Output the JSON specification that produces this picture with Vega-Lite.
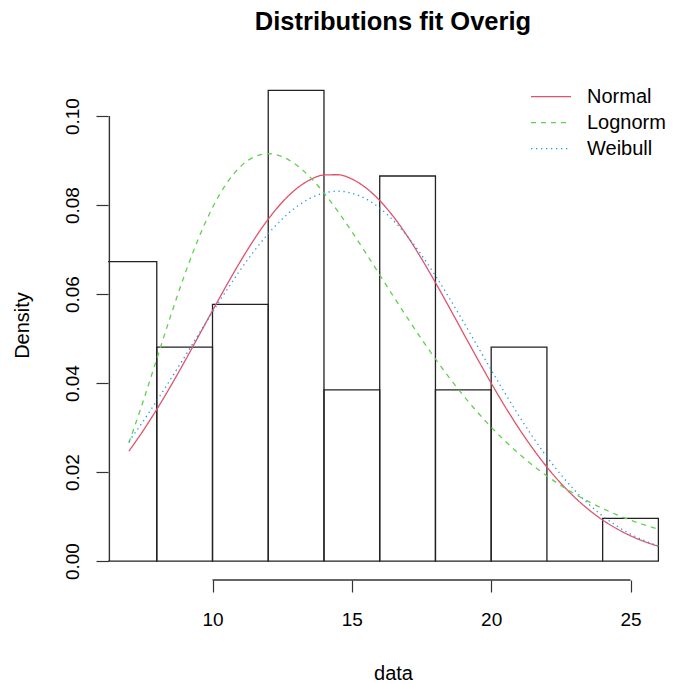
{
  "$schema": "https://vega.github.io/schema/vega-lite/v6.json",
  "width": 566,
  "height": 509,
  "autosize": {"type": "none"},
  "padding": {"left": 108, "top": 71, "right": 0, "bottom": 104},
  "background": "white",
  "title": {"text": "Distributions fit Overig", "fontSize": 25.5, "fontWeight": "bold", "font": "Liberation Sans", "color": "#000000", "anchor": "middle", "dx": 2, "offset": 36},
  "config": {
    "font": "Liberation Sans",
    "view": {"stroke": null},
    "axis": {"grid": false, "domain": false, "tickColor": "#333333", "tickWidth": 1.2, "tickSize": 12, "labelColor": "#000000", "titleColor": "#000000", "labelFont": "Liberation Sans", "titleFont": "Liberation Sans", "labelFontSize": 19, "titleFontSize": 20, "titleFontWeight": "normal"},
    "legend": {"orient": "none", "legendX": 422, "legendY": 12.7, "padding": 0, "symbolType": "stroke", "symbolSize": 1600, "symbolStrokeWidth": 1.3, "labelFontSize": 20, "labelFont": "Liberation Sans", "labelColor": "#000000", "labelOffset": 15, "clipHeight": 26, "rowPadding": 0}
  },
  "datasets": {
    "hist": [
      {"x0": 6, "x1": 8, "density": 0.06731},
      {"x0": 8, "x1": 10, "density": 0.04808},
      {"x0": 10, "x1": 12, "density": 0.05769},
      {"x0": 12, "x1": 14, "density": 0.10577},
      {"x0": 14, "x1": 16, "density": 0.03846},
      {"x0": 16, "x1": 18, "density": 0.08654},
      {"x0": 18, "x1": 20, "density": 0.03846},
      {"x0": 20, "x1": 22, "density": 0.04808},
      {"x0": 22, "x1": 24, "density": 0},
      {"x0": 24, "x1": 26, "density": 0.00962}
    ],
    "xaxisline": [{"xa": 10, "xb": 25, "y": -0.00425}],
    "yaxisline": [{"xv": 6.3, "ya": 0, "yb": 0.1}],
    "curves": [
      {"dist": "Normal", "x": 7, "d": 0.02471}, {"dist": "Normal", "x": 7.5, "d": 0.02920}, {"dist": "Normal", "x": 8, "d": 0.03409}, {"dist": "Normal", "x": 8.5, "d": 0.03933}, {"dist": "Normal", "x": 9, "d": 0.04485}, {"dist": "Normal", "x": 9.5, "d": 0.05054}, {"dist": "Normal", "x": 10, "d": 0.05628}, {"dist": "Normal", "x": 10.5, "d": 0.06192}, {"dist": "Normal", "x": 11, "d": 0.06734}, {"dist": "Normal", "x": 11.5, "d": 0.07235}, {"dist": "Normal", "x": 12, "d": 0.07683}, {"dist": "Normal", "x": 12.5, "d": 0.08063}, {"dist": "Normal", "x": 13, "d": 0.08361}, {"dist": "Normal", "x": 13.5, "d": 0.08568}, {"dist": "Normal", "x": 14, "d": 0.08676}, {"dist": "Normal", "x": 14.5, "d": 0.08682}, {"dist": "Normal", "x": 15, "d": 0.08586}, {"dist": "Normal", "x": 15.5, "d": 0.08390}, {"dist": "Normal", "x": 16, "d": 0.08103}, {"dist": "Normal", "x": 16.5, "d": 0.07733}, {"dist": "Normal", "x": 17, "d": 0.07293}, {"dist": "Normal", "x": 17.5, "d": 0.06795}, {"dist": "Normal", "x": 18, "d": 0.06258}, {"dist": "Normal", "x": 18.5, "d": 0.05696}, {"dist": "Normal", "x": 19, "d": 0.05123}, {"dist": "Normal", "x": 19.5, "d": 0.04553}, {"dist": "Normal", "x": 20, "d": 0.03998}, {"dist": "Normal", "x": 20.5, "d": 0.03470}, {"dist": "Normal", "x": 21, "d": 0.02976}, {"dist": "Normal", "x": 21.5, "d": 0.02523}, {"dist": "Normal", "x": 22, "d": 0.02113}, {"dist": "Normal", "x": 22.5, "d": 0.01749}, {"dist": "Normal", "x": 23, "d": 0.01431}, {"dist": "Normal", "x": 23.5, "d": 0.01156}, {"dist": "Normal", "x": 24, "d": 0.00923}, {"dist": "Normal", "x": 24.5, "d": 0.00729}, {"dist": "Normal", "x": 25, "d": 0.00568}, {"dist": "Normal", "x": 25.5, "d": 0.00438}, {"dist": "Normal", "x": 26, "d": 0.00334},
      {"dist": "Lognorm", "x": 7, "d": 0.02653}, {"dist": "Lognorm", "x": 7.5, "d": 0.03571}, {"dist": "Lognorm", "x": 8, "d": 0.04542}, {"dist": "Lognorm", "x": 8.5, "d": 0.05515}, {"dist": "Lognorm", "x": 9, "d": 0.06433}, {"dist": "Lognorm", "x": 9.5, "d": 0.07254}, {"dist": "Lognorm", "x": 10, "d": 0.07945}, {"dist": "Lognorm", "x": 10.5, "d": 0.08484}, {"dist": "Lognorm", "x": 11, "d": 0.08863}, {"dist": "Lognorm", "x": 11.5, "d": 0.09084}, {"dist": "Lognorm", "x": 12, "d": 0.09154}, {"dist": "Lognorm", "x": 12.5, "d": 0.09089}, {"dist": "Lognorm", "x": 13, "d": 0.08907}, {"dist": "Lognorm", "x": 13.5, "d": 0.08628}, {"dist": "Lognorm", "x": 14, "d": 0.08272}, {"dist": "Lognorm", "x": 14.5, "d": 0.07858}, {"dist": "Lognorm", "x": 15, "d": 0.07403}, {"dist": "Lognorm", "x": 15.5, "d": 0.06924}, {"dist": "Lognorm", "x": 16, "d": 0.06433}, {"dist": "Lognorm", "x": 16.5, "d": 0.05941}, {"dist": "Lognorm", "x": 17, "d": 0.05458}, {"dist": "Lognorm", "x": 17.5, "d": 0.04990}, {"dist": "Lognorm", "x": 18, "d": 0.04542}, {"dist": "Lognorm", "x": 18.5, "d": 0.04118}, {"dist": "Lognorm", "x": 19, "d": 0.03721}, {"dist": "Lognorm", "x": 19.5, "d": 0.03351}, {"dist": "Lognorm", "x": 20, "d": 0.03010}, {"dist": "Lognorm", "x": 20.5, "d": 0.02696}, {"dist": "Lognorm", "x": 21, "d": 0.02409}, {"dist": "Lognorm", "x": 21.5, "d": 0.02148}, {"dist": "Lognorm", "x": 22, "d": 0.01912}, {"dist": "Lognorm", "x": 22.5, "d": 0.01699}, {"dist": "Lognorm", "x": 23, "d": 0.01507}, {"dist": "Lognorm", "x": 23.5, "d": 0.01335}, {"dist": "Lognorm", "x": 24, "d": 0.01181}, {"dist": "Lognorm", "x": 24.5, "d": 0.01043}, {"dist": "Lognorm", "x": 25, "d": 0.00921}, {"dist": "Lognorm", "x": 25.5, "d": 0.00812}, {"dist": "Lognorm", "x": 26, "d": 0.00716},
      {"dist": "Weibull", "x": 7, "d": 0.02686}, {"dist": "Weibull", "x": 7.5, "d": 0.03131}, {"dist": "Weibull", "x": 8, "d": 0.03602}, {"dist": "Weibull", "x": 8.5, "d": 0.04090}, {"dist": "Weibull", "x": 9, "d": 0.04590}, {"dist": "Weibull", "x": 9.5, "d": 0.05095}, {"dist": "Weibull", "x": 10, "d": 0.05595}, {"dist": "Weibull", "x": 10.5, "d": 0.06081}, {"dist": "Weibull", "x": 11, "d": 0.06544}, {"dist": "Weibull", "x": 11.5, "d": 0.06972}, {"dist": "Weibull", "x": 12, "d": 0.07356}, {"dist": "Weibull", "x": 12.5, "d": 0.07686}, {"dist": "Weibull", "x": 13, "d": 0.07955}, {"dist": "Weibull", "x": 13.5, "d": 0.08151}, {"dist": "Weibull", "x": 14, "d": 0.08273}, {"dist": "Weibull", "x": 14.5, "d": 0.08312}, {"dist": "Weibull", "x": 15, "d": 0.08268}, {"dist": "Weibull", "x": 15.5, "d": 0.08141}, {"dist": "Weibull", "x": 16, "d": 0.07932}, {"dist": "Weibull", "x": 16.5, "d": 0.07647}, {"dist": "Weibull", "x": 17, "d": 0.07293}, {"dist": "Weibull", "x": 17.5, "d": 0.06878}, {"dist": "Weibull", "x": 18, "d": 0.06412}, {"dist": "Weibull", "x": 18.5, "d": 0.05908}, {"dist": "Weibull", "x": 19, "d": 0.05381}, {"dist": "Weibull", "x": 19.5, "d": 0.04839}, {"dist": "Weibull", "x": 20, "d": 0.04298}, {"dist": "Weibull", "x": 20.5, "d": 0.03768}, {"dist": "Weibull", "x": 21, "d": 0.03261}, {"dist": "Weibull", "x": 21.5, "d": 0.02783}, {"dist": "Weibull", "x": 22, "d": 0.02342}, {"dist": "Weibull", "x": 22.5, "d": 0.01943}, {"dist": "Weibull", "x": 23, "d": 0.01589}, {"dist": "Weibull", "x": 23.5, "d": 0.01279}, {"dist": "Weibull", "x": 24, "d": 0.01013}, {"dist": "Weibull", "x": 24.5, "d": 0.00791}, {"dist": "Weibull", "x": 25, "d": 0.00607}, {"dist": "Weibull", "x": 25.5, "d": 0.00459}, {"dist": "Weibull", "x": 26, "d": 0.00340}
    ]
  },
  "layer": [
    {
      "data": {"name": "hist"},
      "mark": {"type": "rect", "filled": false, "stroke": "#222222", "strokeWidth": 1.3, "clip": true},
      "encoding": {
        "x": {"field": "x0", "type": "quantitative", "title": "data", "scale": {"domain": [6.25, 26.56], "nice": false, "zero": false},
              "axis": {"values": [10, 15, 20, 25], "labelPadding": 33.5, "labelBaseline": "alphabetic", "titleX": 285, "titleY": 99, "titleBaseline": "alphabetic", "titleAlign": "center", "titleAnchor": null}},
        "x2": {"field": "x1"},
        "y": {"field": "density", "type": "quantitative", "title": "Density", "scale": {"domain": [-0.00425, 0.11013], "nice": false, "zero": false},
              "axis": {"values": [0, 0.02, 0.04, 0.06, 0.08, 0.1], "format": ".2f", "labelAngle": -90, "labelAlign": "center", "labelBaseline": "alphabetic", "labelPadding": 18, "titleAngle": -90, "titleX": -80, "titleY": 254, "titleBaseline": "alphabetic", "titleAlign": "center", "titleAnchor": null}},
        "y2": {"datum": 0}
      }
    },
    {
      "data": {"name": "curves"},
      "mark": {"type": "line", "strokeWidth": 1.3, "interpolate": "monotone", "clip": true},
      "encoding": {
        "x": {"field": "x", "type": "quantitative", "title": "data"},
        "y": {"field": "d", "type": "quantitative", "title": "Density"},
        "color": {"field": "dist", "type": "nominal", "title": null, "sort": ["Normal", "Lognorm", "Weibull"],
                  "scale": {"domain": ["Normal", "Lognorm", "Weibull"], "range": ["#DF536B", "#61D04F", "#2297E6"]}},
        "strokeDash": {"field": "dist", "type": "nominal", "title": null, "sort": ["Normal", "Lognorm", "Weibull"],
                       "scale": {"domain": ["Normal", "Lognorm", "Weibull"], "range": [[1, 0], [5, 5], [1.3, 3.7]]}}
      }
    },
    {
      "data": {"name": "xaxisline"},
      "mark": {"type": "rule", "color": "#333333", "strokeWidth": 1.3},
      "encoding": {
        "x": {"field": "xa", "type": "quantitative", "title": "data"},
        "x2": {"field": "xb"},
        "y": {"field": "y", "type": "quantitative", "title": "Density"}
      }
    },
    {
      "data": {"name": "yaxisline"},
      "mark": {"type": "rule", "color": "#333333", "strokeWidth": 1.4},
      "encoding": {
        "x": {"field": "xv", "type": "quantitative", "title": "data"},
        "y": {"field": "ya", "type": "quantitative", "title": "Density"},
        "y2": {"field": "yb"}
      }
    }
  ]
}
